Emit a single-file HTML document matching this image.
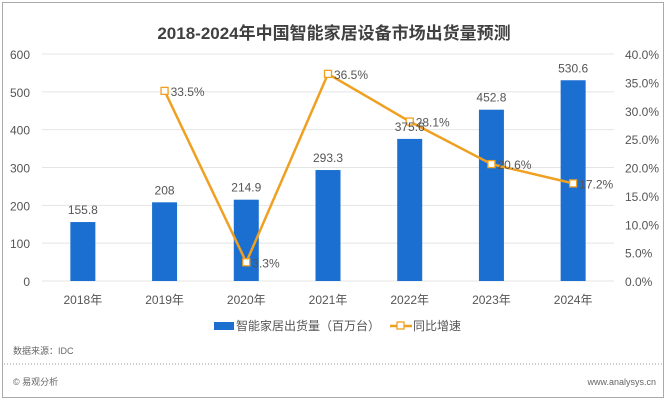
<!DOCTYPE html>
<html><head><meta charset="utf-8"><style>
body{margin:0;width:668px;height:402px;background:#fff;font-family:"Liberation Sans","Noto Sans CJK SC",sans-serif;overflow:hidden}
#frame{position:absolute;left:2px;top:2px;width:662px;height:396px;border:1px solid #aaa;box-sizing:border-box}
</style></head><body>
<div id="frame"></div>
<svg id="c" width="668" height="402" style="position:absolute;left:0;top:0">
<text x="334" y="39" text-anchor="middle" font-size="17" font-weight="bold" fill="#404040">2018-2024年中国智能家居设备市场出货量预测</text>
<g id="grid"></g><g id="bars"></g><g id="line"></g><g id="labels"></g>
<g>
<rect x="214" y="322" width="20" height="8" fill="#1a6fd0"/>
<text x="236" y="330" font-size="12" fill="#555">智能家居出货量（百万台）</text>
<line x1="390" y1="326" x2="412" y2="326" stroke="#f0a020" stroke-width="2.5"/>
<rect x="397" y="322" width="7" height="7" fill="#fff" stroke="#f0a020" stroke-width="1.3"/>
<text x="413" y="330" font-size="12" fill="#555">同比增速</text>
</g>
<text x="13" y="354" font-size="9" fill="#666">数据来源：IDC</text>
<line x1="4" y1="364" x2="664" y2="364" stroke="#999" stroke-dasharray="1,2"/>
<text x="13" y="385" font-size="9" fill="#666">© 易观分析</text>
<text x="656" y="385" text-anchor="end" font-size="9" fill="#666">www.analysys.cn</text>
</svg>
<script>
const categories=["2018年","2019年","2020年","2021年","2022年","2023年","2024年"];
const shipments=[155.8,208,214.9,293.3,375.6,452.8,530.6];
const growth=[null,33.5,3.3,36.5,28.1,20.6,17.2];
const leftTicks=[0,100,200,300,400,500,600];
const rightTicks=[0,5,10,15,20,25,30,35,40];
const NS="http://www.w3.org/2000/svg";
const x0=42,x1=614,yB=281,yT=54,n=categories.length,step=(x1-x0)/n;
const xc=i=>x0+step*(i+0.5), yL=v=>yB-(v/600)*(yB-yT), yR=v=>yB-(v/40)*(yB-yT);
function mk(t,a,p){const e=document.createElementNS(NS,t);for(const k in a)e.setAttribute(k,a[k]);document.getElementById(p).appendChild(e);return e;}
leftTicks.forEach(v=>{const l=mk('line',{x1:x0,x2:x1,y1:yL(v),y2:yL(v),stroke:'#e4e4e4'},'grid');


const t=mk('text',{x:30,y:yL(v)+5,'text-anchor':'end','font-size':12,fill:'#555'},'grid');t.textContent=v;

});
rightTicks.forEach(v=>{const t=mk('text',{x:625,y:yR(v)+5,'font-size':12,fill:'#555'},'grid');t.textContent=v.toFixed(1)+'%';

});
categories.forEach((c,i)=>{const t=mk('text',{x:xc(i),y:304,'text-anchor':'middle','font-size':12,fill:'#555'},'labels');t.textContent=c;

});
shipments.forEach((v,i)=>{const b=mk('rect',{x:xc(i)-12.5,y:yL(v),width:25,height:yB-yL(v),fill:'#1a6fd0'},'bars');


const t=mk('text',{x:xc(i),y:yL(v)-8,'text-anchor':'middle','font-size':12,fill:'#555'},'labels');t.textContent=v;

});
const pts=growth.map((v,i)=>v==null?null:[xc(i),yR(v)]).filter(p=>p);
const pl=mk('polyline',{points:pts.map(p=>p.join(',')).join(' '),fill:'none',stroke:'#f0a020','stroke-width':2.5},'line');


growth.forEach((v,i)=>{if(v==null)return;const m=mk('rect',{x:xc(i)-3.5,y:yR(v)-3.5,width:7,height:7,fill:'#fff',stroke:'#f0a020','stroke-width':1.3},'line');


const t=mk('text',{x:xc(i)+6,y:yR(v)+5,'font-size':12,fill:'#555'},'labels');t.textContent=v.toFixed(1)+'%';

});
</script>
</body></html>
